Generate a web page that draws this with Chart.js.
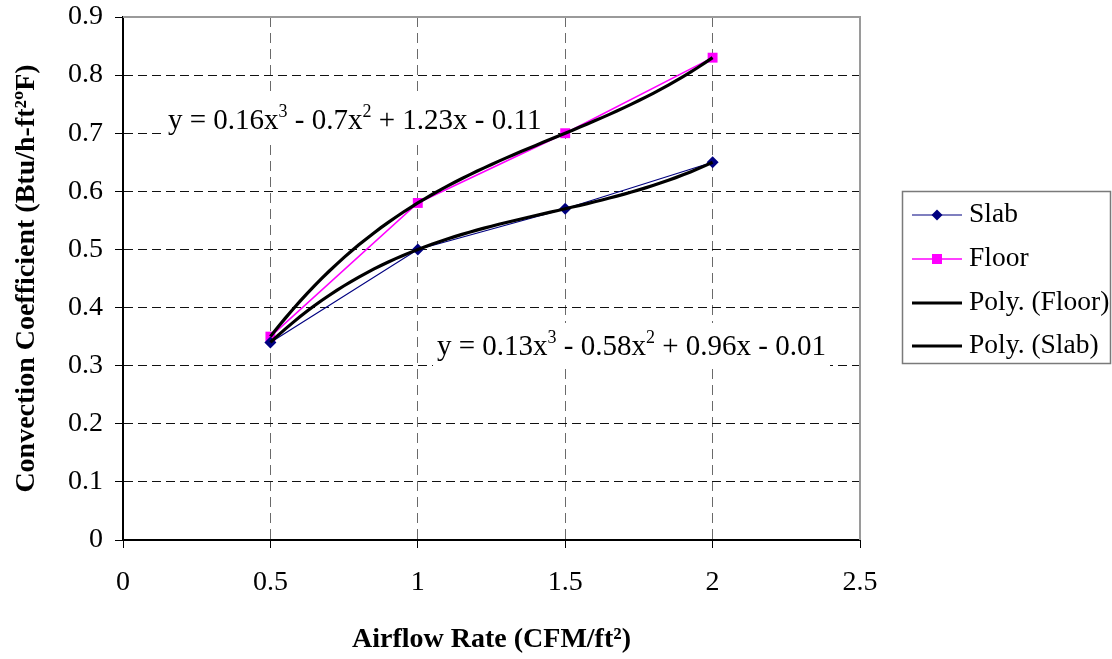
<!DOCTYPE html>
<html><head><meta charset="utf-8">
<script src="https://cdn.jsdelivr.net/npm/chart.js@4.4.1/dist/chart.umd.min.js"></script>
<style>html,body{margin:0;padding:0;background:#fff;} #wrap{width:1112px;height:659px;}</style>
</head><body><div id="wrap"><canvas id="c" width="1112" height="659"></canvas></div>
<script>
// ---- data ----
const airflow = [0.5, 1, 1.5, 2];
const slab = [0.34, 0.50, 0.57, 0.65];
const floor = [0.35, 0.58, 0.70, 0.83];
const xTickLabels = ['0', '0.5', '1', '1.5', '2', '2.5'];
const yTickLabels = ['0', '0.1', '0.2', '0.3', '0.4', '0.5', '0.6', '0.7', '0.8', '0.9'];
const seriesNames = ['Slab', 'Floor', 'Poly. (Floor)', 'Poly. (Slab)'];
const floorEquation = [['y = 0.16x', 0], ['3', 1], [' - 0.7x', 0], ['2', 1], [' + 1.23x - 0.11', 0]];
const slabEquation = [['y = 0.13x', 0], ['3', 1], [' - 0.58x', 0], ['2', 1], [' + 0.96x - 0.01', 0]];
const xTitle = 'Airflow Rate (CFM/ft²)';
const yTitle = 'Convection Coefficient (Btu/h-ft²ºF)';

const FONT = "'Liberation Serif', 'Times New Roman', serif";

function pts(xs, ys) { return xs.map((x, i) => ({x: x, y: ys[i]})); }

// least-squares polynomial (degree 3) trendline, as the spreadsheet does
function polyFit(xs, ys, deg) {
  const n = deg + 1;
  const A = [];
  for (let r = 0; r < n; r++) {
    A.push([]);
    for (let c = 0; c < n; c++) { let s = 0; xs.forEach(x => s += Math.pow(x, r + c)); A[r].push(s); }
    let t = 0; xs.forEach((x, i) => t += ys[i] * Math.pow(x, r)); A[r].push(t);
  }
  for (let i = 0; i < n; i++) {
    let p = i; for (let k = i + 1; k < n; k++) if (Math.abs(A[k][i]) > Math.abs(A[p][i])) p = k;
    [A[i], A[p]] = [A[p], A[i]];
    for (let k = i + 1; k < n; k++) { const f = A[k][i] / A[i][i]; for (let j = i; j <= n; j++) A[k][j] -= f * A[i][j]; }
  }
  const coef = new Array(n).fill(0);
  for (let i = n - 1; i >= 0; i--) { let s = A[i][n]; for (let j = i + 1; j < n; j++) s -= A[i][j] * coef[j]; coef[i] = s / A[i][i]; }
  return coef;
}
function trend(xs, ys) {
  const c = polyFit(xs, ys, 3);
  const lo = Math.min(...xs), hi = Math.max(...xs), steps = 60, out = [];
  for (let i = 0; i <= steps; i++) {
    const x = lo + (hi - lo) * i / steps;
    out.push({x: x, y: c[0] + c[1] * x + c[2] * x * x + c[3] * x * x * x});
  }
  return out;
}

const framePlugin = {
  id: 'frame',
  afterDatasetsDraw(chart) {
    const {ctx, chartArea: a} = chart;
    ctx.save();
    ctx.strokeStyle = '#9a9a9a'; ctx.lineWidth = 2;
    ctx.beginPath();
    ctx.moveTo(a.left, a.top); ctx.lineTo(a.right, a.top); ctx.lineTo(a.right, a.bottom);
    ctx.stroke();
    ctx.restore();
  }
};

function drawEquation(ctx, parts, x, y) {
  const base = "29px " + FONT, sup = "18px " + FONT;
  let w = 0;
  parts.forEach(p => { ctx.font = p[1] ? sup : base; w += ctx.measureText(p[0]).width; });
  ctx.fillStyle = '#fff';
  ctx.fillRect(x - 4, y - 22, w + 8, 44);
  ctx.fillStyle = '#000';
  ctx.textBaseline = 'alphabetic'; ctx.textAlign = 'left';
  let cx = x;
  parts.forEach(p => {
    ctx.font = p[1] ? sup : base;
    ctx.fillText(p[0], cx, p[1] ? y - 2 : y + 10);
    cx += ctx.measureText(p[0]).width;
  });
}

const equationPlugin = {
  id: 'equations',
  beforeDatasetsDraw(chart) {
    const ctx = chart.ctx;
    ctx.save();
    drawEquation(ctx, floorEquation, 168, 119);
    drawEquation(ctx, slabEquation, 437, 345);
    ctx.restore();
  }
};

const legendPlugin = {
  id: 'customLegend',
  afterDraw(chart) {
    const ctx = chart.ctx;
    ctx.save();
    ctx.strokeStyle = '#7a7a7a'; ctx.lineWidth = 1.5;
    ctx.strokeRect(902.5, 191.5, 208, 172);
    const rows = [215, 259, 303, 346];
    chart.data.datasets.forEach((ds, i) => {
      const y = rows[i];
      ctx.strokeStyle = ds.borderColor; ctx.lineWidth = ds.borderWidth;
      ctx.beginPath(); ctx.moveTo(912, y); ctx.lineTo(962, y); ctx.stroke();
      if (ds.pointRadius > 0) {
        ctx.fillStyle = ds.backgroundColor;
        ctx.beginPath();
        if (ds.pointStyle === 'rect') { ctx.rect(932, y - 5, 10, 10); }
        else { ctx.moveTo(937, y - 5.5); ctx.lineTo(942.5, y); ctx.lineTo(937, y + 5.5); ctx.lineTo(931.5, y); ctx.closePath(); }
        ctx.fill();
      }
      ctx.fillStyle = '#000';
      ctx.font = "27.5px " + FONT; ctx.textBaseline = 'middle'; ctx.textAlign = 'left';
      ctx.fillText(ds.label, 969, y);
    });
    ctx.restore();
  }
};

new Chart(document.getElementById('c').getContext('2d'), {
  type: 'scatter',
  data: {
    datasets: [
      {label: seriesNames[0], data: pts(airflow, slab), showLine: true, borderColor: '#000080', backgroundColor: '#000080',
        borderWidth: 1.2, pointStyle: 'rectRot', pointRadius: 6, pointBorderWidth: 0, order: 2},
      {label: seriesNames[1], data: pts(airflow, floor), showLine: true, borderColor: '#FF00FF', backgroundColor: '#FF00FF',
        borderWidth: 1.5, pointStyle: 'rect', pointRadius: 7, pointBorderWidth: 0, order: 2},
      {label: seriesNames[2], data: trend(airflow, floor), showLine: true, borderColor: '#000000', backgroundColor: '#000000',
        borderWidth: 3.2, pointRadius: 0, order: 1},
      {label: seriesNames[3], data: trend(airflow, slab), showLine: true, borderColor: '#000000', backgroundColor: '#000000',
        borderWidth: 3.2, pointRadius: 0, order: 1}
    ]
  },
  options: {
    responsive: false, animation: false, devicePixelRatio: 1,
    layout: {padding: {left: 0, top: 17, right: 252, bottom: 0}},
    plugins: {legend: {display: false}, tooltip: {enabled: false}},
    scales: {
      x: {
        type: 'linear', min: 0, max: 2.5,
        ticks: {stepSize: 0.5, color: '#000', padding: 18, font: {family: FONT, size: 28},
          callback: (v, i) => xTickLabels[i]},
        grid: {color: '#6a6a6a', lineWidth: 1, tickColor: '#000', tickLength: 8, tickWidth: 1},
        border: {display: true, color: '#000', width: 2, dash: [10, 6]},
        title: {display: true, text: xTitle, color: '#000', font: {family: FONT, size: 28, weight: 'bold'}, padding: {top: 0, bottom: 2}},
        afterFit: s => { s.height = 119; s.paddingLeft = 0; s.paddingRight = 0; }
      },
      y: {
        type: 'linear', min: 0, max: 0.9,
        ticks: {stepSize: 0.1, color: '#000', padding: 12, font: {family: FONT, size: 28},
          callback: (v, i) => yTickLabels[i]},
        grid: {color: '#111', lineWidth: 1, tickColor: '#000', tickLength: 8, tickWidth: 1},
        border: {display: true, color: '#000', width: 2, dash: [9, 5]},
        title: {display: true, text: yTitle, color: '#000', font: {family: FONT, size: 28, weight: 'bold'}, padding: {top: 10, bottom: 0}},
        afterFit: s => { s.width = 123; s.paddingTop = 0; s.paddingBottom = 0; }
      }
    }
  },
  plugins: [equationPlugin, framePlugin, legendPlugin]
});
</script>
</body></html>
